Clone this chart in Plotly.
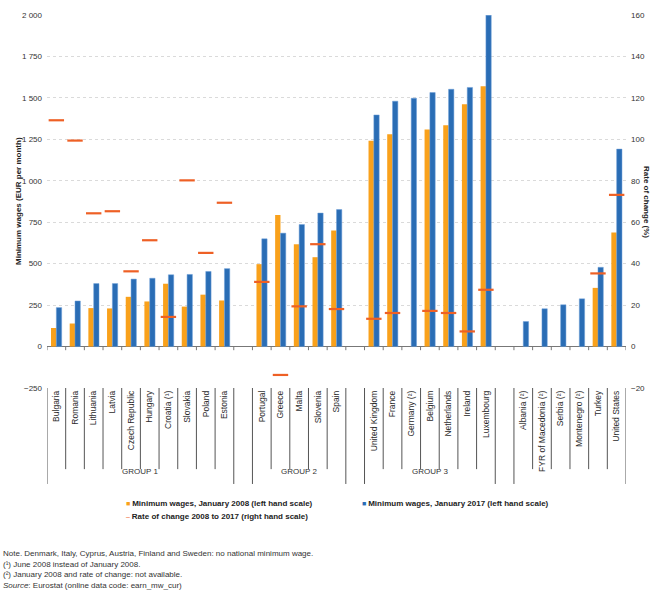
import plotly.graph_objects as go

# categories, blank entries are the gaps between the country groups
countries = [
    "Bulgaria", "Romania", "Lithuania", "Latvia", "Czech Republic", "Hungary",
    "Croatia (¹)", "Slovakia", "Poland", "Estonia", " ",
    "Portugal", "Greece", "Malta", "Slovenia", "Spain", "  ",
    "United Kingdom", "France", "Germany (²)", "Belgium", "Netherlands", "Ireland",
    "Luxembourg", "   ",
    "Albania (²)", "FYR of Macedonia (²)", "Serbia (²)", "Montenegro (²)", "Turkey",
    "United States",
]
group_labels = ["GROUP 1", "GROUP 2", "GROUP 3", ""]

wages_2008 = [
    112, 139, 232, 230, 300, 272, 379, 241, 313, 278, None,
    497, 794, 617, 539, 700, None,
    1242, 1280, None, 1310, 1335, 1462, 1570, None,
    None, None, None, None, 354, 688,
]
wages_2017 = [
    235, 275, 380, 380, 407, 412, 433, 435, 453, 470, None,
    650, 684, 736, 805, 826, None,
    1397, 1480, 1498, 1532, 1552, 1563, 1999, None,
    151, 228, 252, 288, 478, 1191,
]
rate_change = [
    109.2, 99.4, 64.3, 65.3, 36.3, 51.3, 14.3, 80.2, 45.2, 69.4, None,
    31.2, -13.7, 19.4, 49.4, 18.1, None,
    13.4, 16.2, None, 17.2, 16.2, 7.3, 27.4, None,
    None, None, None, None, 35.3, 73.2,
]

legend_labels = [
    "Minimum wages, January 2008 (left hand scale)",
    "Minimum wages, January 2017 (left hand scale)",
    "Rate of change 2008 to 2017 (right hand scale)",
]
notes = [
    "Note. Denmark, Italy, Cyprus, Austria, Finland and Sweden: no national minimum wage.",
    "(¹) June 2008 instead of January 2008.",
    "(²) January 2008 and rate of change: not available.",
    "<i>Source</i>: Eurostat (online data code: earn_mw_cur)",
]

ORANGE = "#F9A11B"
BLUE = "#2A6DB5"
RED = "#EE6025"
FONT = "Liberation Sans, Arial, sans-serif"
TXT = "#333333"

W, H = 670, 593
ML, MR, MT, MB = 47, 44, 11, 205


def px_x(px):
    return (px - ML) / (W - ML - MR)


def px_y(py):
    return (H - MB - py) / (H - MT - MB)


fig = go.Figure()
fig.add_trace(go.Bar(x=countries, y=wages_2008, name=legend_labels[0],
                     marker=dict(color=ORANGE, line=dict(width=0))))
fig.add_trace(go.Bar(x=countries, y=wages_2017, name=legend_labels[1],
                     marker=dict(color=BLUE, line=dict(color="#6C9FD8", width=0.5))))
fig.add_trace(go.Scatter(x=countries, y=rate_change, name=legend_labels[2], yaxis="y2",
                         mode="markers",
                         marker=dict(symbol="line-ew", size=11, line=dict(color=RED, width=2.2))))

# dividers of the label box and small ticks on the zero line
blank = [c.strip() == "" for c in countries]
n = len(countries)
for b in range(n + 1):
    edge = b == 0 or b == n or blank[b - 1] or blank[b]
    fig.add_shape(type="line", xref="x", yref="paper", x0=b - 0.5, x1=b - 0.5,
                  y0=0, y1=px_y(485 if edge else 470),
                  line=dict(color="#555555", width=1))
    fig.add_shape(type="line", xref="x", yref="y", x0=b - 0.5, x1=b - 0.5,
                  y0=0, y1=-22, line=dict(color="#777777", width=1))

# group labels centred under each run of countries
runs, start = [], 0
for i in range(n + 1):
    if i == n or blank[i]:
        if i > start:
            runs.append((start, i - 1))
        start = i + 1
for (a, b), label in zip(runs, group_labels):
    if label:
        fig.add_annotation(x=(a + b) / 2, xref="x", y=px_y(479), yref="paper",
                           text=label, showarrow=False,
                           font=dict(family=FONT, size=8, color=TXT))

# axis titles
fig.add_annotation(x=px_x(12), y=0.5, xref="paper", yref="paper", textangle=-90,
                   text="<b>Minimum wages (EUR per month)</b>", showarrow=False,
                   font=dict(family=FONT, size=8, color="#222222"))
fig.add_annotation(x=px_x(653), y=0.5, xref="paper", yref="paper", textangle=90,
                   text="<b>Rate of change (%)</b>", showarrow=False,
                   font=dict(family=FONT, size=8, color="#222222"))

# legend drawn as text
legend_items = [
    (124, 505, ORANGE, "■", legend_labels[0]),
    (360, 505, BLUE, "■", legend_labels[1]),
    (124, 518, RED, "–", legend_labels[2]),
]
for x, y, col, sym, label in legend_items:
    fig.add_annotation(x=px_x(x), y=px_y(y), xref="paper", yref="paper",
                       xanchor="left", yanchor="middle", showarrow=False,
                       text=f"<span style='color:{col};font-size:7px'>{sym} </span><b>{label}</b>",
                       font=dict(family=FONT, size=8, color="#222222"))

for i, line in enumerate(notes):
    fig.add_annotation(x=px_x(1), y=px_y(555 + 11 * i), xref="paper", yref="paper",
                       xanchor="left", yanchor="middle", showarrow=False, text=line,
                       font=dict(family=FONT, size=8, color=TXT))

fig.update_layout(
    width=W, height=H,
    margin=dict(l=ML, r=MR, t=MT, b=MB),
    paper_bgcolor="white", plot_bgcolor="white",
    barmode="group", bargap=0.43, bargroupgap=0,
    showlegend=False,
    separators=". ",
    font=dict(family=FONT, size=8, color=TXT),
    xaxis=dict(type="category", categoryorder="array", categoryarray=countries,
               range=[-0.5, n - 0.5], tickangle=-90, ticks="", showgrid=False,
               showline=False, zeroline=False,
               tickfont=dict(family=FONT, size=8.5, color="#2b2b2b")),
    yaxis=dict(range=[-250, 2000], dtick=250, tickformat=",d",
               showgrid=True, gridcolor="#DADADA", griddash="dot", gridwidth=1,
               zeroline=True, zerolinecolor="#777777", zerolinewidth=1,
               showline=False, ticks="", ticklabelstandoff=4,
               tickfont=dict(family=FONT, size=8, color=TXT)),
    yaxis2=dict(range=[-20, 160], dtick=20, overlaying="y", side="right",
                showgrid=False, zeroline=False, showline=False, ticks="",
                ticklabelstandoff=4,
                tickfont=dict(family=FONT, size=8, color=TXT)),
)

fig.write_html("out.html", config={"displayModeBar": False},
               post_script="document.body.style.margin = '0px';")
